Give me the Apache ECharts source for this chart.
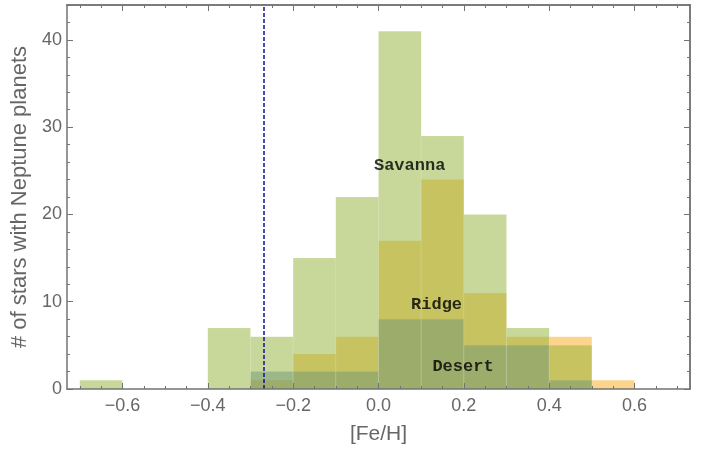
<!DOCTYPE html>
<html><head><meta charset="utf-8">
<script src="https://cdn.jsdelivr.net/npm/echarts@6/dist/echarts.min.js"></script>
<style>html,body{margin:0;padding:0;background:#fff}#c{width:707px;height:450px}</style>
</head><body><div id="c"></div>
<script>
// ---- data ----
const binStarts = [-0.7,-0.6,-0.5,-0.4,-0.3,-0.2,-0.1,0.0,0.1,0.2,0.3,0.4,0.5];
const binWidth = 0.1;
const savanna = [1,0,0,7,6,15,22,41,29,20,7,5,0];
const ridge   = [0,0,0,0,1,4,6,17,24,11,6,6,1];
const desert  = [0,0,0,0,2,2,2,8,8,5,5,1,0];
const xTickLabels = [-0.6,-0.4,-0.2,0.0,0.2,0.4,0.6];
const yTickLabels = [0,10,20,30,40];
const refLine = -0.27;
const labelNames = ['Savanna','Ridge','Desert'];
const labelX = [0.073,0.136,0.198];
const labelY = [25.6,9.7,2.6];

// ---- helpers ----
const minorX = [];
for (let i = -14; i <= 14; i++) minorX.push(Math.round(i*5)/100);
const minorY = [];
for (let i = 0; i <= 44; i += 2) minorY.push(i);

function binsData(vals){
  const out = [];
  vals.forEach((v,i)=>{ if(v>0){ const s = binStarts[i]; out.push([s, Math.round((s+binWidth)*10)/10, v]); } });
  return out;
}
function makeRender(fill){
  return function(params, api){
    const p0 = api.coord([api.value(0), api.value(2)]);
    const p1 = api.coord([api.value(1), 0]);
    return {type:'rect', shape:{x:p0[0], y:p0[1], width:p1[0]-p0[0], height:p1[1]-p0[1]},
      style:{fill:fill, stroke:'rgba(255,255,255,0.18)', lineWidth:0.6}};
  };
}
const frame = '#737373';
const txt = '#666';
const font = 'Liberation Sans';
function xAx(pos, ticks, len, labels, extra){
  return Object.assign({type:'value', position:pos, min:-0.73, max:0.73, z:5,
    splitLine:{show:false},
    axisLine:{show:!!labels || pos==='top', onZero:false, lineStyle:{color:frame, width:1.5}},
    axisTick:{show:true, inside:true, length:len, customValues:ticks, lineStyle:{color:frame, width:1}},
    axisLabel: labels ? {show:true, customValues:labels, margin:8, color:txt, fontSize:18, fontFamily:font,
        formatter:v=>(v<0?'\u2212':'')+Math.abs(v).toFixed(1)} : {show:false}
  }, extra||{});
}
function yAx(pos, ticks, len, labels, extra){
  return Object.assign({type:'value', position:pos, min:0, max:44, z:5,
    splitLine:{show:false},
    axisLine:{show:!!labels || pos==='right', onZero:false, lineStyle:{color:frame, width:1.5}},
    axisTick:{show:true, inside:true, length:len, customValues:ticks, lineStyle:{color:frame, width:1}},
    axisLabel: labels ? {show:true, customValues:labels, margin:5, color:txt, fontSize:18, fontFamily:font} : {show:false}
  }, extra||{});
}

const chart = echarts.init(document.getElementById('c'), null, {renderer:'canvas'});
chart.setOption({
  animation:false,
  backgroundColor:'#fff',
  grid:{left:67, right:17, top:5, bottom:60},
  xAxis:[
    xAx('bottom', xTickLabels, 6, xTickLabels, {name:'[Fe/H]', nameLocation:'middle', nameGap:35,
      nameTextStyle:{color:txt, fontSize:21, fontFamily:font}}),
    xAx('bottom', minorX, 3, null),
    xAx('top', xTickLabels, 6, null),
    xAx('top', minorX, 3, null)
  ],
  yAxis:[
    yAx('left', yTickLabels, 6, yTickLabels, {name:'# of stars with Neptune planets', nameLocation:'middle', nameGap:25,
      nameTextStyle:{color:txt, fontSize:22, fontFamily:font}}),
    yAx('left', minorY, 3, null),
    yAx('right', yTickLabels, 6, null),
    yAx('right', minorY, 3, null)
  ],
  series:[
    {type:'custom', name:'Ridge', renderItem:makeRender('rgba(251,169,25,0.5)'), data:binsData(ridge),
      encode:{x:[0,1], y:2}, z:2},
    {type:'custom', name:'Desert', renderItem:makeRender('rgba(77,122,182,0.5)'), data:binsData(desert),
      encode:{x:[0,1], y:2}, z:2},
    {type:'custom', name:'Savanna', renderItem:makeRender('rgba(145,177,53,0.5)'), data:binsData(savanna),
      encode:{x:[0,1], y:2}, z:2,
      markLine:{silent:true, symbol:'none', label:{show:false}, animation:false,
        lineStyle:{color:'#10109a', type:[4,2], width:1.5},
        data:[{xAxis:refLine}]}},
    {type:'scatter', symbolSize:0, z:4, silent:true,
      data:labelNames.map((n,i)=>[labelX[i], labelY[i], n]),
      label:{show:true, position:'inside', formatter:p=>p.data[2], color:'#000',
        fontFamily:'Liberation Mono', fontWeight:'bold', fontSize:17}}
  ]
});
</script></body></html>
